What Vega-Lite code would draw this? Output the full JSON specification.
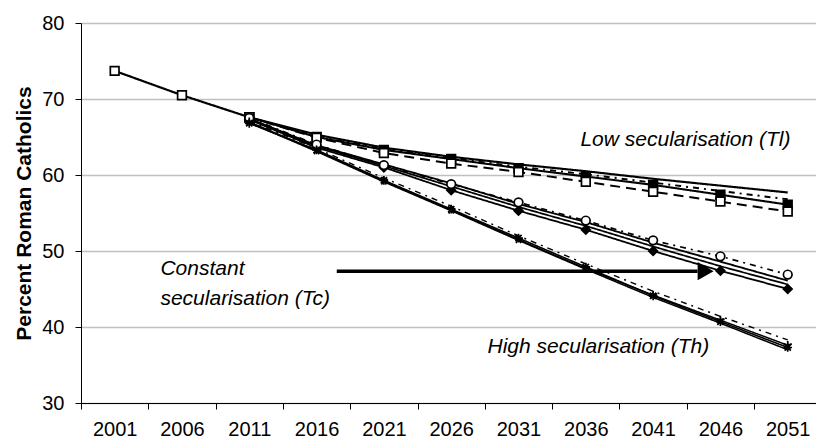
{
  "$schema": "https://vega.github.io/schema/vega-lite/v6.json",
  "width": 735,
  "height": 380,
  "autosize": {"type": "none"},
  "padding": {"left": 81, "top": 23, "right": 0, "bottom": 43},
  "config": {"view": {"stroke": null}, "font": "Liberation Sans"},
  "datasets": {
    "wide": [
      {"year": 2001, "obs": 73.7},
      {"year": 2006, "obs": 70.5},
      {"year": 2011, "obs": 67.6, "Tl_a": 67.6, "Tl_b": 67.6, "Tl_c": 67.6, "Tl_d": 67.6, "Tc_a": 67.4, "Tc_b": 67.3, "Tc_c": 67.4, "Tc_d": 67.5, "Th_a": 66.8, "Th_b": 66.9, "Th_c": 67.0, "Th_d": 67.1},
      {"year": 2016, "Tl_a": 65.3, "Tl_b": 65.0, "Tl_c": 64.9, "Tl_d": 65.1, "Tc_a": 63.9, "Tc_b": 63.6, "Tc_c": 63.8, "Tc_d": 64.0, "Th_a": 63.3, "Th_b": 63.1, "Th_c": 63.2, "Th_d": 63.5},
      {"year": 2021, "Tl_a": 63.6, "Tl_b": 63.3, "Tl_c": 62.9, "Tl_d": 63.4, "Tc_a": 61.4, "Tc_b": 61.0, "Tc_c": 61.2, "Tc_d": 61.3, "Th_a": 59.3, "Th_b": 59.1, "Th_c": 59.2, "Th_d": 59.6},
      {"year": 2026, "Tl_a": 62.4, "Tl_b": 62.1, "Tl_c": 61.5, "Tl_d": 62.2, "Tc_a": 58.9, "Tc_b": 58.0, "Tc_c": 58.5, "Tc_d": 58.8, "Th_a": 55.5, "Th_b": 55.3, "Th_c": 55.4, "Th_d": 55.9},
      {"year": 2031, "Tl_a": 61.4, "Tl_b": 60.9, "Tl_c": 60.4, "Tl_d": 61.1, "Tc_a": 56.2, "Tc_b": 55.3, "Tc_c": 55.8, "Tc_d": 56.4, "Th_a": 51.7, "Th_b": 51.4, "Th_c": 51.5, "Th_d": 52.0},
      {"year": 2036, "Tl_a": 60.5, "Tl_b": 59.8, "Tl_c": 59.1, "Tl_d": 60.1, "Tc_a": 53.8, "Tc_b": 52.8, "Tc_c": 53.3, "Tc_d": 54.0, "Th_a": 47.9, "Th_b": 47.6, "Th_c": 47.7, "Th_d": 48.3},
      {"year": 2041, "Tl_a": 59.5, "Tl_b": 58.7, "Tl_c": 57.8, "Tl_d": 59.0, "Tc_a": 51.1, "Tc_b": 50.0, "Tc_c": 50.6, "Tc_d": 51.4, "Th_a": 44.1, "Th_b": 43.9, "Th_c": 44.2, "Th_d": 44.7},
      {"year": 2046, "Tl_a": 58.6, "Tl_b": 57.4, "Tl_c": 56.5, "Tl_d": 57.9, "Tc_a": 48.6, "Tc_b": 47.4, "Tc_c": 48.0, "Tc_d": 49.3, "Th_a": 40.7, "Th_b": 40.5, "Th_c": 40.9, "Th_d": 41.4},
      {"year": 2051, "Tl_a": 57.7, "Tl_b": 56.1, "Tl_c": 55.2, "Tl_d": 56.8, "Tc_a": 46.1, "Tc_b": 45.0, "Tc_c": 45.6, "Tc_d": 46.9, "Th_a": 37.3, "Th_b": 37.0, "Th_c": 37.6, "Th_d": 38.3}
    ],
    "labels": [
      {"text": "Low secularisation (Tl)", "year": 2035.6, "v": 64.6},
      {"text": "Constant", "year": 2004.4, "v": 47.6},
      {"text": "secularisation (Tc)", "year": 2004.4, "v": 43.7},
      {"text": "High secularisation (Th)", "year": 2028.7, "v": 37.4}
    ],
    "arrow": [
      {"year": 2017.5, "year2": 2044.3, "v": 47.35}
    ],
    "arrowhead": [
      {"year": 2044.9, "v": 47.35}
    ]
  },
  "layer": [
    {
      "data": {"name": "wide"},
      "transform": [
        {"fold": ["obs", "Tl_a", "Tl_b", "Tl_c", "Tl_d", "Tc_a", "Tc_b", "Tc_c", "Tc_d", "Th_a", "Th_b", "Th_c", "Th_d"], "as": ["s", "v"]},
        {"filter": "isValid(datum.v)"}
      ],
      "layer": [
        {
          "mark": {"type": "line", "color": "black", "strokeCap": "butt"},
          "encoding": {
            "x": {
              "field": "year", "type": "quantitative",
              "scale": {"domain": [1998.5, 2053.1], "nice": false, "zero": false},
              "axis": {
                "title": null,
                "values": [1998.5, 2003.5, 2008.5, 2013.5, 2018.5, 2023.5, 2028.5, 2033.5, 2038.5, 2043.5, 2048.5],
                "labelExpr": "format(datum.value + 2.5, 'd')",
                "labelOffset": 33.65,
                "labelOverlap": false,
                "labelFlush": false,
                "labelFontSize": 20,
                "labelColor": "black",
                "labelPadding": 10,
                "tickSize": 6,
                "tickColor": "black",
                "domainColor": "black",
                "grid": false
              }
            },
            "y": {
              "field": "v", "type": "quantitative",
              "scale": {"domain": [30, 80], "nice": false, "zero": false},
              "axis": {
                "title": "Percent Roman Catholics",
                "titleFontSize": 21,
                "titleFontWeight": "bold",
                "titleColor": "black",
                "titlePadding": 7,
                "values": [30, 40, 50, 60, 70, 80],
                "labelFontSize": 20,
                "labelColor": "black",
                "labelPadding": 11,
                "tickSize": 6,
                "tickColor": "black",
                "domainColor": "black",
                "gridColor": "#c0c0c0",
                "gridWidth": 1.5
              }
            },
            "detail": {"field": "s"},
            "strokeDash": {
              "field": "s", "type": "nominal", "legend": null,
              "scale": {
                "domain": ["obs", "Tl_a", "Tl_b", "Tl_c", "Tl_d", "Tc_a", "Tc_b", "Tc_c", "Tc_d", "Th_a", "Th_b", "Th_c", "Th_d"],
                "range": [[1, 0], [1, 0], [1, 0], [10, 6], [6, 5, 2, 5], [1, 0], [1, 0], [1, 0], [6, 5, 2, 5], [1, 0], [1, 0], [1, 0], [6, 5, 2, 5]]
              }
            },
            "strokeWidth": {
              "field": "s", "type": "nominal", "legend": null,
              "scale": {
                "domain": ["obs", "Tl_a", "Tl_b", "Tl_c", "Tl_d", "Tc_a", "Tc_b", "Tc_c", "Tc_d", "Th_a", "Th_b", "Th_c", "Th_d"],
                "range": [2.2, 1.4, 2.4, 1.6, 1.6, 1.3, 2.2, 1.3, 1.6, 2.2, 1.3, 1.3, 1.6]
              }
            }
          }
        },
        {
          "transform": [{"filter": {"field": "s", "oneOf": ["obs", "Tl_b", "Tl_c", "Tc_b", "Tc_d", "Th_a", "Th_c"]}}],
          "mark": {"type": "point", "filled": true, "stroke": "black", "strokeWidth": 1.7, "opacity": 1},
          "encoding": {
            "x": {"field": "year", "type": "quantitative"},
            "y": {"field": "v", "type": "quantitative"},
            "shape": {
              "field": "s", "type": "nominal", "legend": null,
              "scale": {
                "domain": ["obs", "Tl_b", "Tl_c", "Tc_b", "Tc_d", "Th_a", "Th_c"],
                "range": ["square", "square", "square", "diamond", "circle",
                  "M-1,0L1,0M0,-1L0,1M-0.72,-0.72L0.72,0.72M-0.72,0.72L0.72,-0.72",
                  "M0,-1L0,0M0,0L-0.95,-0.31M0,0L0.95,-0.31M0,0L-0.59,0.81M0,0L0.59,0.81"]
              }
            },
            "fill": {
              "field": "s", "type": "nominal", "legend": null,
              "scale": {
                "domain": ["obs", "Tl_b", "Tl_c", "Tc_b", "Tc_d", "Th_a", "Th_c"],
                "range": ["white", "black", "white", "black", "white", "transparent", "transparent"]
              }
            },
            "size": {
              "field": "s", "type": "nominal", "legend": null,
              "scale": {
                "domain": ["obs", "Tl_b", "Tl_c", "Tc_b", "Tc_d", "Th_a", "Th_c"],
                "range": [75, 75, 75, 85, 75, 120, 130]
              }
            }
          }
        }
      ]
    },
    {
      "data": {"name": "arrow"},
      "mark": {"type": "rule", "color": "black", "strokeWidth": 3.5},
      "encoding": {
        "x": {"field": "year", "type": "quantitative"},
        "x2": {"field": "year2"},
        "y": {"field": "v", "type": "quantitative"}
      }
    },
    {
      "data": {"name": "arrowhead"},
      "mark": {"type": "point", "shape": "triangle-right", "filled": true, "color": "black", "size": 340, "opacity": 1},
      "encoding": {
        "x": {"field": "year", "type": "quantitative"},
        "y": {"field": "v", "type": "quantitative"}
      }
    },
    {
      "data": {"name": "labels"},
      "mark": {"type": "text", "align": "left", "baseline": "middle", "fontStyle": "italic", "fontSize": 21, "color": "black"},
      "encoding": {
        "x": {"field": "year", "type": "quantitative"},
        "y": {"field": "v", "type": "quantitative"},
        "text": {"field": "text"}
      }
    }
  ]
}
